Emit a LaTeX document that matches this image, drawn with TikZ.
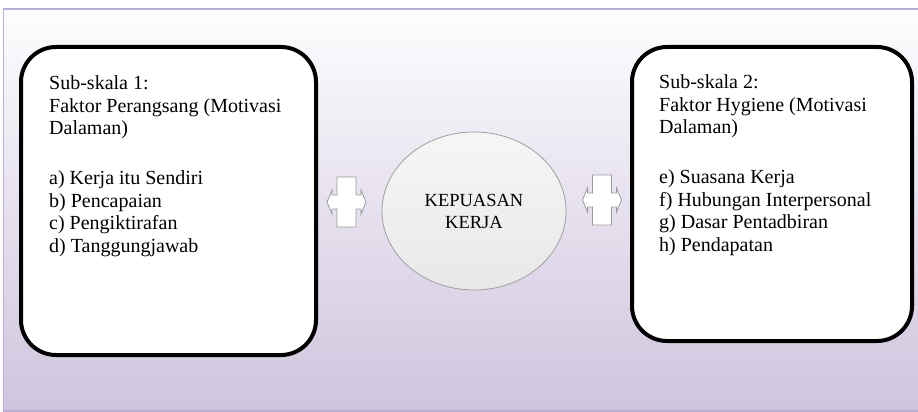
\documentclass[tikz,border=0pt]{standalone}
\usepackage{fontspec}
\setmainfont{Liberation Serif}
\usetikzlibrary{shapes.geometric}

\definecolor{bgtop}{RGB}{253,253,254}
\definecolor{bgbottom}{RGB}{207,196,222}
\definecolor{bgframe}{RGB}{186,172,211}
\definecolor{ovaltop}{RGB}{246,246,246}
\definecolor{ovalbottom}{RGB}{232,232,232}

\tikzset{
  skalabox/.style={draw=black, line width=4pt, rounded corners=35pt, fill=white, inner sep=0pt},
  skalatext/.style={align=left, inner sep=0pt, anchor=north west, font=\fontsize{20}{22.5}\selectfont},
  puasoval/.style={ellipse, draw=gray!75, line width=0.8pt, top color=ovaltop, bottom color=ovalbottom,
    minimum width=184pt, minimum height=158pt, align=center, font=\fontsize{18.5}{22}\selectfont},
  duaarah/.pic={
    \draw[gray!80, line width=0.8pt, fill=white]
      (-9.5,-25) -- (9.5,-25) -- (9.5,-7) -- (14.5,-7) -- (14.5,-12) -- (19.5,0) -- (14.5,12) -- (14.5,7)
      -- (9.5,7) -- (9.5,25) -- (-9.5,25) -- (-9.5,7) -- (-14.5,7) -- (-14.5,12) -- (-19.5,0)
      -- (-14.5,-12) -- (-14.5,-7) -- (-9.5,-7) -- cycle;
  }
}

\begin{document}
\begin{tikzpicture}[x=1pt,y=-1pt]
  \useasboundingbox (0,0) rectangle (918,412);
  \shade[top color=bgtop, bottom color=bgbottom] (3.5,9) rectangle (925,411);
  \draw[bgframe, line width=1.5pt] (3.5,9) rectangle (925,411);

  \node[skalabox, minimum width=295pt, minimum height=308pt] (skalaA) at (168.5,201) {};
  \node[skalabox, minimum width=280pt, minimum height=294pt] (skalaB) at (772,194) {};

  \node[skalatext] (faktorA) at (49,75.5) {Sub-skala 1:\\Faktor Perangsang (Motivasi\\Dalaman)\\[27.5pt]
    a) Kerja itu Sendiri\\b) Pencapaian\\c) Pengiktirafan\\d) Tanggungjawab};
  \node[skalatext] (faktorB) at (659,74.5) {Sub-skala 2:\\Faktor Hygiene (Motivasi\\Dalaman)\\[27.5pt]
    e) Suasana Kerja\\f) Hubungan Interpersonal\\g) Dasar Pentadbiran\\h) Pendapatan};

  \node[puasoval] (kepuasan) at (474,211) {KEPUASAN\\KERJA};

  \coordinate (arahA) at (346.5,202);
  \coordinate (arahB) at (602,200);
  \pic at (arahA) {duaarah};
  \pic at (arahB) {duaarah};
\end{tikzpicture}
\end{document}
